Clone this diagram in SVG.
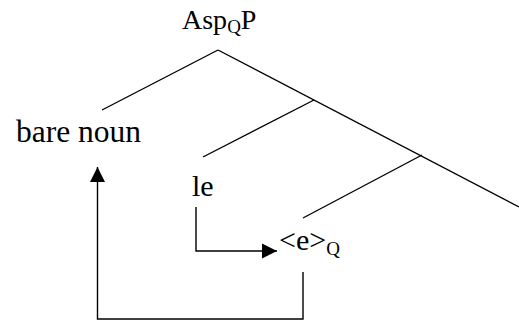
<svg xmlns="http://www.w3.org/2000/svg" width="519" height="323" viewBox="0 0 519 323">
<defs>
<style>
text{font-family:'Liberation Serif','Times New Roman','DejaVu Serif',serif;fill:#000}
.ln{stroke:#000;stroke-width:1.4;fill:none}
</style>
<marker id="ah" viewBox="0 0 10 10" refX="10" refY="5" markerWidth="15" markerHeight="16" markerUnits="userSpaceOnUse" orient="auto">
<path d="M0,0 L10,5 L0,10 z" fill="#000"/>
</marker>
</defs>
<g id="n-aspqp"><text font-family="Liberation Serif, serif" x="182" y="29" font-size="28">Asp<tspan font-size="19" dy="4">Q</tspan><tspan dy="-4">P</tspan></text></g>
<g id="n-barenoun"><text font-family="Liberation Serif, serif" x="16" y="142" font-size="31.5">bare noun</text></g>
<g id="n-le"><text font-family="Liberation Serif, serif" x="192" y="196" font-size="30">le</text></g>
<g id="n-e"><text font-family="Liberation Serif, serif" x="279" y="250" font-size="30">&lt;e&gt;<tspan font-size="19" dy="5">Q</tspan></text></g>
<g id="connectors">
<line class="ln" x1="218" y1="50" x2="102" y2="110"/>
<line class="ln" x1="218" y1="50" x2="519" y2="207"/>
<line class="ln" x1="314" y1="100" x2="203" y2="157"/>
<line class="ln" x1="422" y1="155" x2="303" y2="218"/>
<polyline class="ln" points="196,207 196,251 277,251" marker-end="url(#ah)"/>
<polyline class="ln" points="303,272 303,319 97.5,319 97.5,167" marker-end="url(#ah)"/>
</g>
</svg>
